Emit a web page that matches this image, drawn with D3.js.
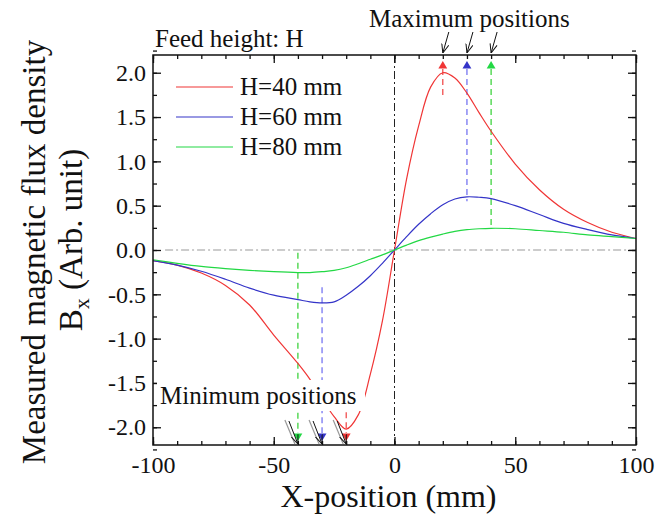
<!DOCTYPE html>
<html lang="en">
<head>
<meta charset="UTF-8">
<title></title>
<style type="text/css">
    html, body { padding:0; margin:0; background:#fff; }
</style>
</head>
<body>
<script src="https://d3js.org/d3.v7.min.js"></script>
<script type="text/javascript">
    // x positions (mm) and measured Bx for each feed height
    var xPos = [-100, -90, -80, -70, -60, -50, -40, -35, -30, -25, -20, -15, -10, -5, 0,
                5, 10, 15, 20, 25, 30, 35, 40, 50, 60, 70, 80, 90, 100];
    var h40 = [-0.12, -0.17, -0.26, -0.4, -0.62, -0.96, -1.28, -1.46, -1.68, -1.88, -2.02, -1.86, -1.4, -0.8, 0,
               0.8, 1.4, 1.84, 2.0, 1.94, 1.77, 1.55, 1.34, 0.97, 0.68, 0.46, 0.31, 0.2, 0.13];
    var h60 = [-0.12, -0.17, -0.24, -0.33, -0.43, -0.51, -0.56, -0.585, -0.597, -0.585, -0.51, -0.41, -0.29, -0.15, 0,
               0.15, 0.29, 0.41, 0.51, 0.575, 0.6, 0.595, 0.58, 0.5, 0.4, 0.3, 0.23, 0.17, 0.13];
    var h80 = [-0.11, -0.15, -0.185, -0.21, -0.23, -0.245, -0.255, -0.255, -0.245, -0.23, -0.2, -0.155, -0.105, -0.055, 0,
               0.055, 0.105, 0.145, 0.18, 0.21, 0.23, 0.24, 0.245, 0.24, 0.22, 0.2, 0.17, 0.15, 0.13];
    var seriesNames = ['H=40 mm', 'H=60 mm', 'H=80 mm'];
    var maxPositions = [20, 30, 40];
    var minPositions = [-20, -30, -40];
    // where the dashed marker lines stop inside the plot
    var maxLineEnds = [1.72, 0.55, 0.24];
    var minLineEnds = [-1.83, -0.42, -0.03];
    var xTicks = [-100, -50, 0, 50, 100];
    var yTicks = [-2.0, -1.5, -1.0, -0.5, 0.0, 0.5, 1.0, 1.5, 2.0];

    var FONT = '"Liberation Serif", "Times New Roman", Times, "DejaVu Serif", serif';

    var width = 656, height = 521,
        margin = {top: 55, right: 20, bottom: 76, left: 153},
        w = width - margin.left - margin.right,
        h = height - margin.top - margin.bottom;

    var colors = ['#f03535', '#3434c8', '#22d844'];
    var dashColors = ['#f04040', '#6a6af0', '#30d030'];
    var series = [h40, h60, h80];

    var svg = d3.select('body').append('svg')
        .attr('width', width)
        .attr('height', height)
        .attr('font-family', FONT);

    var defs = svg.append('defs');
    defs.append('marker')
        .attr('id', 'open')
        .attr('viewBox', '0 0 10 10')
        .attr('refX', 10).attr('refY', 5)
        .attr('markerWidth', 9).attr('markerHeight', 9)
        .attr('markerUnits', 'userSpaceOnUse')
        .attr('orient', 'auto')
        .append('path')
        .attr('d', 'M0,1 L10,5 L0,9')
        .attr('fill', 'none')
        .attr('stroke', '#111')
        .attr('stroke-width', 1.1);

    var g = svg.append('g').attr('transform', 'translate(' + margin.left + ',' + margin.top + ')');

    var xScale = d3.scaleLinear().domain([-100, 100]).range([0, w]);
    var yScale = d3.scaleLinear().domain([-2.2, 2.2]).range([h, 0]);

    // zero reference lines
    g.append('line')
        .attr('x1', xScale(-95)).attr('x2', xScale(100))
        .attr('y1', yScale(0)).attr('y2', yScale(0))
        .attr('stroke', '#999').attr('stroke-width', 1.2)
        .attr('stroke-dasharray', '8,3,2,3');
    g.append('line')
        .attr('x1', xScale(0)).attr('x2', xScale(0))
        .attr('y1', 0).attr('y2', h)
        .attr('stroke', '#222').attr('stroke-width', 1)
        .attr('stroke-dasharray', '8,3,2,3');

    // dashed marker lines
    maxPositions.forEach(function(p, i) {
        g.append('line')
            .attr('x1', xScale(p)).attr('x2', xScale(p))
            .attr('y1', yScale(2.2) + 14).attr('y2', yScale(maxLineEnds[i]))
            .attr('stroke', dashColors[i]).attr('stroke-width', 1.2)
            .attr('stroke-dasharray', '6,4');
    });
    minPositions.forEach(function(p, i) {
        g.append('line')
            .attr('x1', xScale(p)).attr('x2', xScale(p))
            .attr('y1', yScale(minLineEnds[i])).attr('y2', yScale(-2.2) - 12)
            .attr('stroke', dashColors[i]).attr('stroke-width', 1.2)
            .attr('stroke-dasharray', '6,4');
    });

    // curves
    var line = d3.line()
        .x(function(d) { return xScale(d[0]); })
        .y(function(d) { return yScale(d[1]); })
        .curve(d3.curveCatmullRom.alpha(0.5));

    series.forEach(function(s, i) {
        g.append('path')
            .datum(xPos.map(function(x, k) { return [x, s[k]]; }))
            .attr('fill', 'none')
            .attr('stroke', colors[i])
            .attr('stroke-width', 1.2)
            .attr('d', line);
    });

    // triangles at the extrema positions
    var tri = d3.symbol().type(d3.symbolTriangle).size(34);
    maxPositions.forEach(function(p, i) {
        g.append('path')
            .attr('d', tri)
            .attr('transform', 'translate(' + xScale(p) + ',' + (yScale(2.2) + 11) + ')')
            .attr('fill', colors[i]);
    });
    minPositions.forEach(function(p, i) {
        g.append('path')
            .attr('d', tri)
            .attr('transform', 'translate(' + xScale(p) + ',' + (yScale(-2.2) - 9) + ') rotate(180)')
            .attr('fill', colors[i]);
    });

    // axes with inward ticks
    function hyphen(f) {
        return function(d) { return f(d).replace('\u2212', '-'); };
    }
    function addAxis(axis, tr, cls) {
        var a = g.append('g').attr('class', cls).attr('transform', tr).call(axis);
        a.attr('font-family', FONT);
        a.select('.domain').remove();
        a.selectAll('line').attr('stroke', '#111').attr('stroke-width', 1.3);
        a.selectAll('text').attr('font-size', 24).attr('fill', '#111');
        return a;
    }
    var xMinor = d3.range(-100, 101, 10), yMinor = d3.range(-2.25, 2.3, 0.25);

    addAxis(d3.axisBottom(xScale).tickValues(xTicks).tickSize(-8).tickPadding(11).tickFormat(hyphen(d3.format('d'))), 'translate(0,' + h + ')', 'x-axis');
    addAxis(d3.axisBottom(xScale).tickValues(xMinor).tickSize(-4).tickFormat(''), 'translate(0,' + h + ')', 'x-minor');
    addAxis(d3.axisTop(xScale).tickValues(xTicks).tickSize(-8).tickFormat(''), 'translate(0,0)', 'x-top');
    addAxis(d3.axisTop(xScale).tickValues(xMinor).tickSize(-4).tickFormat(''), 'translate(0,0)', 'x-top-minor');
    addAxis(d3.axisLeft(yScale).tickValues(yTicks).tickSize(-8).tickPadding(7).tickFormat(hyphen(d3.format('.1f'))), 'translate(0,0)', 'y-axis');
    addAxis(d3.axisLeft(yScale).tickValues(yMinor).tickSize(-4).tickFormat(''), 'translate(0,0)', 'y-minor');
    addAxis(d3.axisRight(yScale).tickValues(yTicks).tickSize(-8).tickFormat(''), 'translate(' + w + ',0)', 'y-right');
    addAxis(d3.axisRight(yScale).tickValues(yMinor).tickSize(-4).tickFormat(''), 'translate(' + w + ',0)', 'y-right-minor');

    g.append('rect')
        .attr('width', w).attr('height', h)
        .attr('fill', 'none').attr('stroke', '#111').attr('stroke-width', 1.5);

    // legend
    var legend = g.append('g').attr('transform', 'translate(23,32)');
    seriesNames.forEach(function(n, i) {
        var row = legend.append('g').attr('transform', 'translate(0,' + (i * 30) + ')');
        row.append('line').attr('x1', 0).attr('x2', 57).attr('y1', 0).attr('y2', 0)
            .attr('stroke', colors[i]).attr('stroke-width', 1.2);
        row.append('text').attr('x', 64).attr('y', 8).attr('font-size', 25).attr('fill', '#111').text(n);
    });

    // annotations
    svg.append('text').attr('x', 155).attr('y', 47).attr('font-size', 25).attr('fill', '#111').text('Feed height: H');
    svg.append('text').attr('x', 369).attr('y', 27).attr('font-size', 25).attr('fill', '#111').text('Maximum positions');

    maxPositions.forEach(function(p, i) {
        var x1 = margin.left + xScale(p);
        svg.append('line')
            .attr('x1', x1 + 6).attr('y1', 32)
            .attr('x2', x1).attr('y2', margin.top - 2)
            .attr('stroke', '#111').attr('stroke-width', 1)
            .attr('marker-end', 'url(#open)');
    });

    var minLabel = svg.append('g');
    minLabel.append('rect').attr('x', 157).attr('y', 380).attr('width', 208).attr('height', 31).attr('fill', '#fff');
    minLabel.append('text').attr('x', 160).attr('y', 404).attr('font-size', 25).attr('fill', '#111').text('Minimum positions');

    minPositions.forEach(function(p, i) {
        var x1 = margin.left + xScale(p);
        svg.append('line')
            .attr('x1', x1 - 13).attr('y1', 420)
            .attr('x2', x1 - 3).attr('y2', margin.top + h - 1)
            .attr('stroke', '#999').attr('stroke-width', 1.2);
        svg.append('line')
            .attr('x1', x1 - 9).attr('y1', 421)
            .attr('x2', x1).attr('y2', margin.top + h - 1)
            .attr('stroke', '#111').attr('stroke-width', 1)
            .attr('marker-end', 'url(#open)');
    });

    // axis titles
    svg.append('text')
        .attr('x', margin.left + w / 2 - 6).attr('y', 507)
        .attr('text-anchor', 'middle').attr('font-size', 32).attr('fill', '#111')
        .text('X-position (mm)');

    var yTitle = svg.append('g').attr('transform', 'translate(0,' + 252 + ') rotate(-90)');
    yTitle.append('text')
        .attr('x', 0).attr('y', 45)
        .attr('text-anchor', 'middle').attr('font-size', 33).attr('fill', '#111')
        .text('Measured magnetic flux density');
    var t2 = yTitle.append('text')
        .attr('x', 12).attr('y', 82)
        .attr('text-anchor', 'middle').attr('font-size', 33).attr('fill', '#111');
    t2.append('tspan').text('B');
    t2.append('tspan').attr('font-size', 22).attr('dy', 7).text('x');
    t2.append('tspan').attr('dy', -7).text(' (Arb. unit)');
</script>
</body>
</html>
